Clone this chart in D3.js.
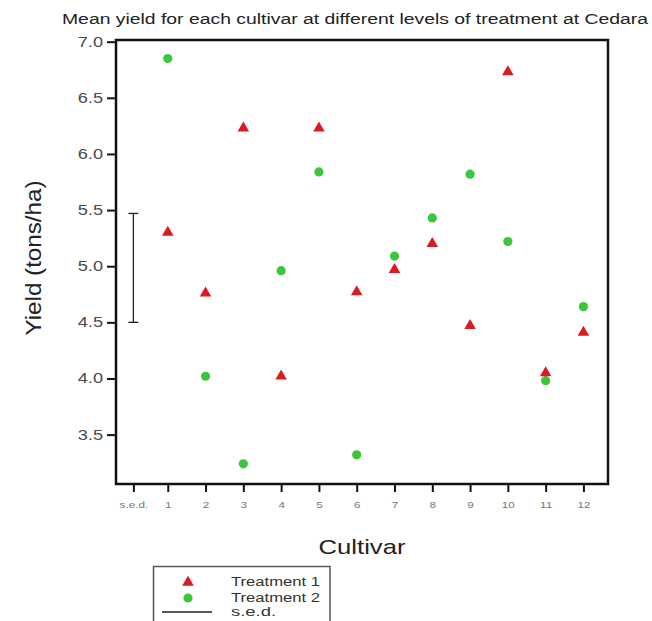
<!DOCTYPE html>
<html>
<head>
<meta charset="utf-8">
<script src="https://cdn.jsdelivr.net/npm/d3@7"></script>
<style>
  html, body { margin: 0; padding: 0; background: #fff; }
  svg { display: block; font-family: Arial, "Liberation Sans", sans-serif; }
</style>
</head>
<body>
<svg id="chart" width="652" height="621"></svg>
<script>
// ---- data ----
const cultivars = [1, 2, 3, 4, 5, 6, 7, 8, 9, 10, 11, 12];
const treatment1 = [5.30, 4.76, 6.23, 4.02, 6.23, 4.77, 4.97, 5.20, 4.47, 6.73, 4.05, 4.41];
const treatment2 = [6.85, 4.02, 3.24, 4.96, 5.84, 3.32, 5.09, 5.43, 5.82, 5.22, 3.98, 4.64];
const sedLow = 4.50;
const sedHigh = 5.47;
const sedPosition = 0.09;
const xTickValues = [0.09, 1, 2, 3, 4, 5, 6, 7, 8, 9, 10, 11, 12];
const xTickLabels = ["s.e.d.", "1", "2", "3", "4", "5", "6", "7", "8", "9", "10", "11", "12"];
const yTickValues = [3.5, 4.0, 4.5, 5.0, 5.5, 6.0, 6.5, 7.0];
const legendLabels = ["Treatment 1", "Treatment 2", "s.e.d."];

const red = "#dc1a22";
const green = "#3cc63c";

const svg = d3.select("#chart");
const pLeft = 116, pRight = 608, pTop = 40, pBottom = 484;

const x = d3.scaleLinear().domain([-0.37, 12.65]).range([pLeft, pRight]);
const y = d3.scaleLinear().domain([3.06, 7.015]).range([pBottom, pTop]);

function stretch(sel, factor) {
  sel.each(function () {
    const len = this.getComputedTextLength();
    d3.select(this).attr("textLength", len * factor).attr("lengthAdjust", "spacingAndGlyphs");
  });
}

// title
svg.append("text")
  .attr("x", 62).attr("y", 24)
  .attr("font-size", 14).attr("fill", "#222")
  .text("Mean yield for each cultivar at different levels of treatment at Cedara")
  .attr("textLength", 586).attr("lengthAdjust", "spacingAndGlyphs");

// axes
const yAxis = svg.append("g")
  .attr("transform", `translate(${pLeft},0)`)
  .call(d3.axisLeft(y).tickValues(yTickValues).tickFormat(d3.format(".1f")).tickSize(9).tickPadding(4));
yAxis.select(".domain").remove();
yAxis.selectAll(".tick line").attr("stroke", "#111").attr("stroke-width", 2);
yAxis.selectAll(".tick text").attr("font-size", 14).attr("fill", "#4a4a4a")
  .attr("font-family", "Arial, 'Liberation Sans', sans-serif").call(stretch, 1.3);

const xAxis = svg.append("g")
  .attr("transform", `translate(0,${pBottom})`)
  .call(d3.axisBottom(x).tickValues(xTickValues).tickFormat((d, i) => xTickLabels[i]).tickSize(8).tickPadding(10));
xAxis.select(".domain").remove();
xAxis.selectAll(".tick line").attr("stroke", "#111").attr("stroke-width", 2);
xAxis.selectAll(".tick text").attr("font-size", 9).attr("fill", "#777")
  .attr("font-family", "Arial, 'Liberation Sans', sans-serif").call(stretch, 1.3);

// frame
svg.append("rect")
  .attr("x", pLeft).attr("y", pTop)
  .attr("width", pRight - pLeft).attr("height", pBottom - pTop)
  .attr("fill", "none").attr("stroke", "#111").attr("stroke-width", 2.5);

// s.e.d. bar
const sedG = svg.append("g").attr("stroke", "#222").attr("stroke-width", 1.3);
sedG.append("line").attr("x1", x(sedPosition)).attr("x2", x(sedPosition)).attr("y1", y(sedLow)).attr("y2", y(sedHigh));
sedG.append("line").attr("x1", x(sedPosition) - 5).attr("x2", x(sedPosition) + 5).attr("y1", y(sedLow)).attr("y2", y(sedLow));
sedG.append("line").attr("x1", x(sedPosition) - 5).attr("x2", x(sedPosition) + 5).attr("y1", y(sedHigh)).attr("y2", y(sedHigh));

// points
const tri = d3.symbol().type(d3.symbolTriangle).size(58);
svg.append("g").selectAll("circle")
  .data(cultivars.map((c, i) => ({ c, v: treatment2[i] })))
  .join("circle")
  .attr("cx", d => x(d.c)).attr("cy", d => y(d.v)).attr("r", 4.6)
  .attr("fill", green);
svg.append("g").selectAll("path")
  .data(cultivars.map((c, i) => ({ c, v: treatment1[i] })))
  .join("path")
  .attr("d", tri)
  .attr("transform", d => `translate(${x(d.c)},${y(d.v)})`)
  .attr("fill", red);

// axis titles
svg.append("text")
  .attr("x", 362).attr("y", 554).attr("text-anchor", "middle")
  .attr("font-size", 21).attr("fill", "#222")
  .text("Cultivar").attr("textLength", 87).attr("lengthAdjust", "spacingAndGlyphs");

svg.append("text")
  .attr("transform", "translate(41,258) rotate(-90)")
  .attr("text-anchor", "middle")
  .attr("font-size", 22).attr("fill", "#222")
  .text("Yield (tons/ha)").attr("textLength", 155).attr("lengthAdjust", "spacingAndGlyphs");

// legend
const lg = svg.append("g");
lg.append("rect").attr("x", 153.5).attr("y", 566.5).attr("width", 176.5).attr("height", 70)
  .attr("fill", "none").attr("stroke", "#555").attr("stroke-width", 1.5);
lg.append("path").attr("d", tri).attr("transform", "translate(188,582.5)").attr("fill", red);
lg.append("circle").attr("cx", 188).attr("cy", 598).attr("r", 4.6).attr("fill", green);
lg.append("line").attr("x1", 162).attr("x2", 212).attr("y1", 612).attr("y2", 612)
  .attr("stroke", "#222").attr("stroke-width", 1.5);
const legendY = [586, 601.5, 616];
const legendW = [89, 89, 45];
lg.selectAll("text.lab").data(legendLabels).join("text")
  .attr("class", "lab")
  .attr("x", 231).attr("y", (d, i) => legendY[i])
  .attr("font-size", 12.5).attr("fill", "#333")
  .text(d => d)
  .attr("textLength", (d, i) => legendW[i]).attr("lengthAdjust", "spacingAndGlyphs");
</script>
</body>
</html>
